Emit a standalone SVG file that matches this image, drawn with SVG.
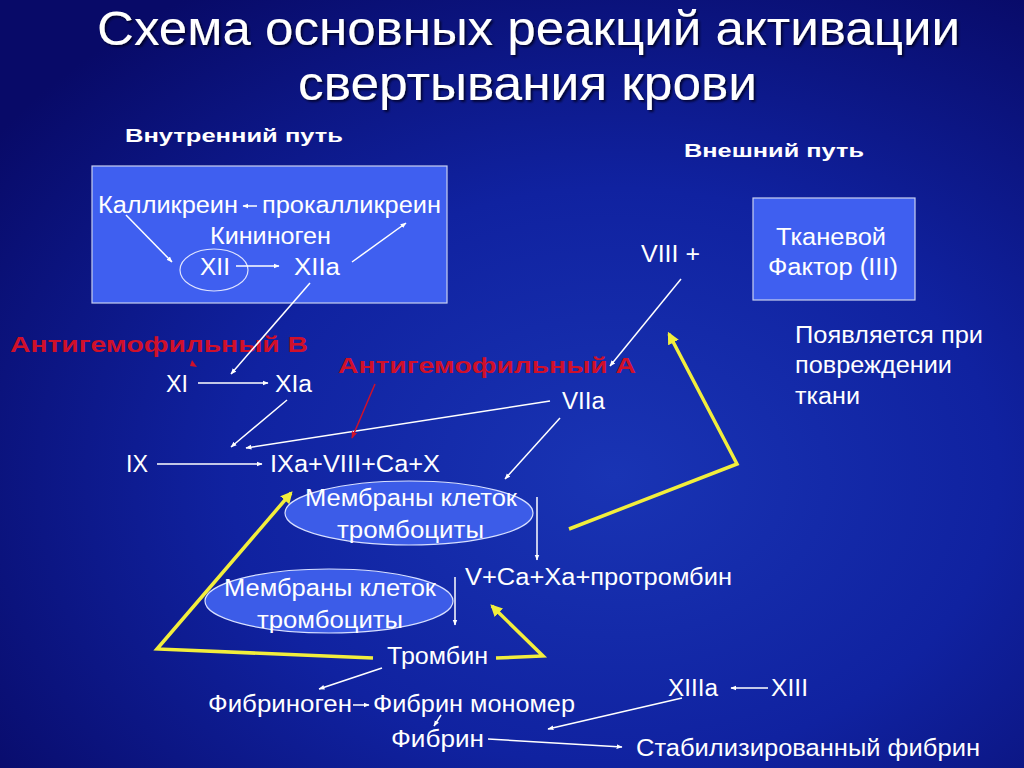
<svg xmlns="http://www.w3.org/2000/svg" width="1024" height="768" viewBox="0 0 1024 768">
<defs>
<radialGradient id="bg" cx="0.6" cy="0.62" r="0.75">
<stop offset="0" stop-color="#1934b4"/>
<stop offset="0.5" stop-color="#1022a0"/>
<stop offset="1" stop-color="#080a68"/>
</radialGradient>
<filter id="sh" x="-5%" y="-20%" width="110%" height="150%">
<feDropShadow dx="2" dy="2" stdDeviation="1" flood-color="#000020" flood-opacity="0.8"/>
</filter>
<marker id="aw" viewBox="0 0 10 10" refX="9" refY="5" markerWidth="6" markerHeight="6" orient="auto" markerUnits="userSpaceOnUse">
<path d="M0,1 L10,5 L0,9 z" fill="#ffffff"/>
</marker>
<marker id="ar" viewBox="0 0 10 10" refX="9" refY="5" markerWidth="7" markerHeight="7" orient="auto" markerUnits="userSpaceOnUse">
<path d="M0,1 L10,5 L0,9 z" fill="#d0102a"/>
</marker>
<marker id="ay" viewBox="0 0 10 10" refX="8" refY="5" markerWidth="12" markerHeight="12" orient="auto" markerUnits="userSpaceOnUse">
<path d="M0,0 L10,5 L0,10 z" fill="#f2ee3c"/>
</marker>
<style>
text{font-family:"Liberation Sans",Arial,sans-serif;fill:#ffffff}
.t{font-size:23px}
.title{font-size:49px}
.hd{font-size:19px;font-weight:bold}
.red{font-size:22px;font-weight:bold;fill:#d0102a}
.box{fill:#3f5ff0;stroke:#c8d0f0;stroke-width:1.2}
.ell{fill:#3c5ce8;stroke:#d8e0ff;stroke-width:1.2}
.w{stroke:#ffffff;stroke-width:1.5;fill:none;marker-end:url(#aw)}
.r{stroke:#d0102a;stroke-width:1.5;fill:none;marker-end:url(#ar)}
.y{stroke:#f2ee3c;stroke-width:3.5;fill:none;stroke-linejoin:miter}
</style>
</defs>
<rect width="1024" height="768" fill="url(#bg)"/>
<g id="title" filter="url(#sh)">
<text class="title" x="97" y="45" textLength="863" lengthAdjust="spacingAndGlyphs">Схема основных реакций активации</text>
<text class="title" x="298" y="100" textLength="459" lengthAdjust="spacingAndGlyphs">свертывания крови</text>
</g>
<g id="labels">
<text class="hd" x="125" y="142" textLength="218" lengthAdjust="spacingAndGlyphs">Внутренний путь</text>
<text class="hd" x="684" y="157" textLength="180" lengthAdjust="spacingAndGlyphs">Внешний путь</text>
</g>
<g id="intrinsic">
<rect class="box" x="92" y="166" width="355" height="137"/>
<text class="t" x="98" y="213" textLength="140" lengthAdjust="spacingAndGlyphs">Калликреин</text>
<text class="t" x="262" y="213" textLength="179" lengthAdjust="spacingAndGlyphs">прокалликреин</text>
<text class="t" x="210" y="244" textLength="121" lengthAdjust="spacingAndGlyphs">Кининоген</text>
<ellipse cx="214" cy="270" rx="34" ry="21" fill="none" stroke="#dfe4ff" stroke-width="1.2"/>
<text class="t" x="200" y="275" textLength="30" lengthAdjust="spacingAndGlyphs">XII</text>
<text class="t" x="294" y="275" textLength="46" lengthAdjust="spacingAndGlyphs">XIIa</text>
</g>
<g id="tissue-factor">
<rect class="box" x="753" y="198" width="162" height="102"/>
<text class="t" x="776" y="245" textLength="110" lengthAdjust="spacingAndGlyphs">Тканевой</text>
<text class="t" x="768" y="275" textLength="130" lengthAdjust="spacingAndGlyphs">Фактор (III)</text>
</g>
<g id="note">
<text class="t" x="795" y="343" textLength="188" lengthAdjust="spacingAndGlyphs">Появляется при</text>
<text class="t" x="795" y="373" textLength="157" lengthAdjust="spacingAndGlyphs">повреждении</text>
<text class="t" x="795" y="404" textLength="65" lengthAdjust="spacingAndGlyphs">ткани</text>
</g>
<g id="antiB"><text class="red" x="10" y="352" textLength="298" lengthAdjust="spacingAndGlyphs">Антигемофильный В</text></g>
<g id="antiA"><text class="red" x="338" y="373" textLength="298" lengthAdjust="spacingAndGlyphs">Антигемофильный А</text></g>
<g id="XI"><text class="t" x="166" y="392" textLength="22" lengthAdjust="spacingAndGlyphs">XI</text></g>
<g id="XIa"><text class="t" x="275" y="392" textLength="37" lengthAdjust="spacingAndGlyphs">XIa</text></g>
<g id="VIII"><text class="t" x="641" y="262" textLength="59" lengthAdjust="spacingAndGlyphs">VIII +</text></g>
<g id="VIIa"><text class="t" x="562" y="409" textLength="43" lengthAdjust="spacingAndGlyphs">VIIa</text></g>
<g id="IX"><text class="t" x="126" y="472" textLength="22" lengthAdjust="spacingAndGlyphs">IX</text></g>
<g id="IXa"><text class="t" x="270" y="472" textLength="170" lengthAdjust="spacingAndGlyphs">IXa+VIII+Ca+X</text></g>
<g id="membr1">
<ellipse class="ell" cx="409" cy="513" rx="124" ry="32"/>
<text class="t" x="305" y="506" textLength="212" lengthAdjust="spacingAndGlyphs">Мембраны клеток</text>
<text class="t" x="337" y="538" textLength="147" lengthAdjust="spacingAndGlyphs">тромбоциты</text>
</g>
<g id="membr2">
<ellipse class="ell" cx="329" cy="601" rx="124" ry="32"/>
<text class="t" x="224" y="596" textLength="212" lengthAdjust="spacingAndGlyphs">Мембраны клеток</text>
<text class="t" x="257" y="628" textLength="146" lengthAdjust="spacingAndGlyphs">тромбоциты</text>
</g>
<g id="prothrombinase"><text class="t" x="465" y="585" textLength="267" lengthAdjust="spacingAndGlyphs">V+Ca+Xa+протромбин</text></g>
<g id="thrombin"><text class="t" x="387" y="664" textLength="101" lengthAdjust="spacingAndGlyphs">Тромбин</text></g>
<g id="fibrinogen"><text class="t" x="208" y="712" textLength="144" lengthAdjust="spacingAndGlyphs">Фибриноген</text></g>
<g id="fibrin-monomer"><text class="t" x="373" y="712" textLength="202" lengthAdjust="spacingAndGlyphs">Фибрин мономер</text></g>
<g id="fibrin"><text class="t" x="391" y="747" textLength="93" lengthAdjust="spacingAndGlyphs">Фибрин</text></g>
<g id="XIIIa"><text class="t" x="668" y="696" textLength="50" lengthAdjust="spacingAndGlyphs">XIIIa</text></g>
<g id="XIII"><text class="t" x="771" y="696" textLength="37" lengthAdjust="spacingAndGlyphs">XIII</text></g>
<g id="stab-fibrin"><text class="t" x="636" y="756" textLength="344" lengthAdjust="spacingAndGlyphs">Стабилизированный фибрин</text></g>
<g id="connectors">
<line class="w" x1="257" y1="206" x2="243" y2="206"/>
<line class="w" x1="126" y1="215" x2="172" y2="262"/>
<line class="w" x1="236" y1="266" x2="279" y2="266"/>
<line class="w" x1="352" y1="262" x2="406" y2="223"/>
<line class="w" x1="310" y1="283" x2="231" y2="374"/>
<path d="M192,360 L197,367 L190,366 z" fill="#d0102a"/>
<line class="w" x1="198" y1="383" x2="268" y2="383"/>
<line class="w" x1="287" y1="400" x2="231" y2="447"/>
<line class="w" x1="550" y1="401" x2="246" y2="448"/>
<line class="r" x1="375" y1="384" x2="352" y2="438"/>
<line class="w" x1="681" y1="279" x2="610" y2="366"/>
<line class="w" x1="560" y1="418" x2="505" y2="479"/>
<line class="w" x1="157" y1="464" x2="262" y2="464"/>
<line class="w" x1="537" y1="497" x2="537" y2="560"/>
<line class="w" x1="455" y1="577" x2="455" y2="625"/>
<polyline class="y" points="569,529 737,464 669,334" marker-end="url(#ay)"/>
<polyline class="y" points="373,658 157,649 291,493" marker-end="url(#ay)"/>
<polyline class="y" points="496,658 543,656 492,606" marker-end="url(#ay)"/>
<line class="w" x1="382" y1="668" x2="319" y2="689"/>
<line class="w" x1="353" y1="705" x2="369" y2="705"/>
<line class="w" x1="441" y1="715" x2="434" y2="726"/>
<line class="w" x1="488" y1="739" x2="622" y2="747"/>
<line class="w" x1="768" y1="688" x2="731" y2="688"/>
<line class="w" x1="682" y1="698" x2="548" y2="729"/>
</g>
</svg>
